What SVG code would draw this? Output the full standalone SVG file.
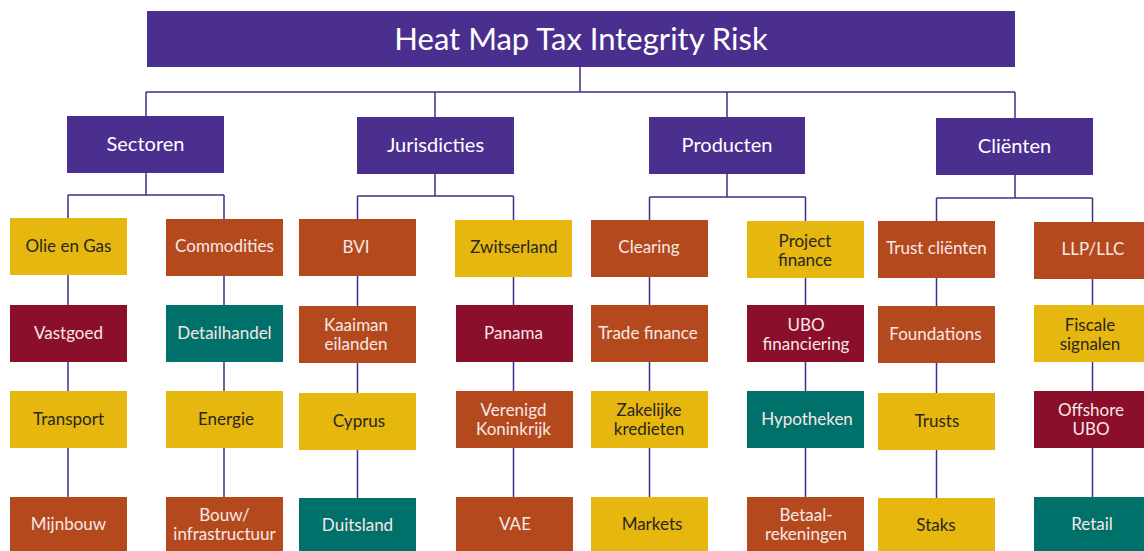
<svg xmlns="http://www.w3.org/2000/svg" width="1144" height="551" viewBox="0 0 1144 551">
<style>
text{font-family:Lato,"Noto Sans","DejaVu Sans",sans-serif;text-anchor:middle}
.p{fill:#4B2F8F}.y{fill:#E5B70F}.o{fill:#B5491E}.m{fill:#8B0E2B}.t{fill:#00706A}
.tt{font-size:31px;fill:#FFFFFF}
.ct{font-size:20px;fill:#FFFFFF}
.l{font-size:17px;fill:#F6E8E6}
.d{font-size:17px;fill:#2A2620}
#connectors path{fill:none;stroke:#3F2F86;stroke-width:1.5}
</style>
<rect width="1144" height="551" fill="#FFFFFF"/>
<g id="connectors">
<path d="M580 67V92M146 92H1015M146 92V116M435 92V117M727 92V117M1015 92V118"/>
<path d="M146 173V195M68 195H224M68 195V218M224 195V219"/>
<path d="M435 174V196M357.5 196H513.5M357.5 196V219M513.5 196V220"/>
<path d="M727 174V197M649.5 197H805.5M649.5 197V220M805.5 197V221"/>
<path d="M1015 175V198M936.5 198H1092.5M936.5 198V221M1092.5 198V222"/>
<path d="M68 275V305M68 362V391M68 448V497"/>
<path d="M224 276V305M224 362V391M224 448V497"/>
<path d="M357.5 276V306M357.5 363V393M357.5 450V498"/>
<path d="M513.5 277V305M513.5 362V391M513.5 448V497"/>
<path d="M649.5 277V305M649.5 362V391M649.5 448V497"/>
<path d="M805.5 278V305M805.5 362V391M805.5 448V497"/>
<path d="M936.5 278V306M936.5 363V393M936.5 450V498"/>
<path d="M1092.5 279V305M1092.5 362V391M1092.5 448V497"/>
</g>
<g id="title"><rect class="p" x="147" y="11" width="868" height="56"/><text class="tt" x="581" y="50">Heat Map Tax Integrity Risk</text></g>
<g id="sectoren"><rect class="p" x="67" y="116" width="157" height="57"/><text class="ct" x="145.5" y="151">Sectoren</text></g>
<g id="jurisdicties"><rect class="p" x="357" y="117" width="157" height="57"/><text class="ct" x="435.5" y="152">Jurisdicties</text></g>
<g id="producten"><rect class="p" x="649" y="117" width="156" height="57"/><text class="ct" x="727" y="152">Producten</text></g>
<g id="clienten"><rect class="p" x="936" y="118" width="157" height="57"/><text class="ct" x="1014.5" y="153">Cliënten</text></g>

<g id="olie"><rect class="y" x="10" y="218" width="117" height="57"/><text class="d" x="68.5" y="252">Olie en Gas</text></g>
<g id="vastgoed"><rect class="m" x="10" y="305" width="117" height="57"/><text class="l" x="68.5" y="339">Vastgoed</text></g>
<g id="transport"><rect class="y" x="10" y="391" width="117" height="57"/><text class="d" x="68.5" y="425">Transport</text></g>
<g id="mijnbouw"><rect class="o" x="10" y="497" width="117" height="57"/><text class="l" x="68.5" y="530">Mijnbouw</text></g>

<g id="commodities"><rect class="o" x="166" y="219" width="117" height="57"/><text class="l" x="224.5" y="252">Commodities</text></g>
<g id="detailhandel"><rect class="t" x="166" y="305" width="117" height="57"/><text class="l" x="224.5" y="339">Detailhandel</text></g>
<g id="energie"><rect class="y" x="166" y="391" width="117" height="57"/><text class="d" x="226" y="425">Energie</text></g>
<g id="bouw"><rect class="o" x="166" y="497" width="117" height="57"/><text class="l" x="224.5" y="521">Bouw/</text><text class="l" x="224.5" y="540">infrastructuur</text></g>

<g id="bvi"><rect class="o" x="299" y="219" width="117" height="57"/><text class="l" x="356" y="253">BVI</text></g>
<g id="kaaiman"><rect class="o" x="299" y="306" width="117" height="57"/><text class="l" x="356" y="331">Kaaiman</text><text class="l" x="356" y="350">eilanden</text></g>
<g id="cyprus"><rect class="y" x="299" y="393" width="117" height="57"/><text class="d" x="359" y="427">Cyprus</text></g>
<g id="duitsland"><rect class="t" x="299" y="498" width="117" height="57"/><text class="l" x="357.5" y="531">Duitsland</text></g>

<g id="zwitserland"><rect class="y" x="455" y="220" width="117" height="57"/><text class="d" x="514" y="253">Zwitserland</text></g>
<g id="panama"><rect class="m" x="456" y="305" width="117" height="57"/><text class="l" x="513.5" y="339">Panama</text></g>
<g id="vk"><rect class="o" x="456" y="391" width="117" height="57"/><text class="l" x="513.5" y="416">Verenigd</text><text class="l" x="513.5" y="435">Koninkrijk</text></g>
<g id="vae"><rect class="o" x="456" y="497" width="117" height="57"/><text class="l" x="515" y="530">VAE</text></g>

<g id="clearing"><rect class="o" x="591" y="220" width="117" height="57"/><text class="l" x="649" y="253">Clearing</text></g>
<g id="trade"><rect class="o" x="591" y="305" width="117" height="57"/><text class="l" x="648" y="339">Trade finance</text></g>
<g id="zakelijke"><rect class="y" x="591" y="391" width="117" height="57"/><text class="d" x="649" y="416">Zakelijke</text><text class="d" x="649" y="435">kredieten</text></g>
<g id="markets"><rect class="y" x="591" y="497" width="117" height="57"/><text class="d" x="652" y="530">Markets</text></g>

<g id="project"><rect class="y" x="747" y="221" width="117" height="57"/><text class="d" x="805" y="247">Project</text><text class="d" x="805" y="266">finance</text></g>
<g id="ubo"><rect class="m" x="747" y="305" width="117" height="57"/><text class="l" x="806" y="331">UBO</text><text class="l" x="806" y="350">financiering</text></g>
<g id="hypotheken"><rect class="t" x="747" y="391" width="117" height="57"/><text class="l" x="807" y="425">Hypotheken</text></g>
<g id="betaal"><rect class="o" x="747" y="497" width="117" height="57"/><text class="l" x="806" y="521">Betaal-</text><text class="l" x="806" y="540">rekeningen</text></g>

<g id="trustclienten"><rect class="o" x="878" y="221" width="117" height="57"/><text class="l" x="936.5" y="254">Trust cliënten</text></g>
<g id="foundations"><rect class="o" x="878" y="306" width="117" height="57"/><text class="l" x="935.5" y="340">Foundations</text></g>
<g id="trusts"><rect class="y" x="878" y="393" width="117" height="57"/><text class="d" x="937" y="427">Trusts</text></g>
<g id="staks"><rect class="y" x="878" y="498" width="117" height="57"/><text class="d" x="936" y="531">Staks</text></g>

<g id="llp"><rect class="o" x="1034" y="222" width="117" height="57"/><text class="l" x="1093" y="255">LLP/LLC</text></g>
<g id="fiscale"><rect class="y" x="1034" y="305" width="117" height="57"/><text class="d" x="1090" y="331">Fiscale</text><text class="d" x="1090" y="350">signalen</text></g>
<g id="offshore"><rect class="m" x="1034" y="391" width="117" height="57"/><text class="l" x="1091" y="416">Offshore</text><text class="l" x="1091" y="435">UBO</text></g>
<g id="retail"><rect class="t" x="1034" y="497" width="117" height="57"/><text class="l" x="1092" y="530">Retail</text></g>
</svg>
